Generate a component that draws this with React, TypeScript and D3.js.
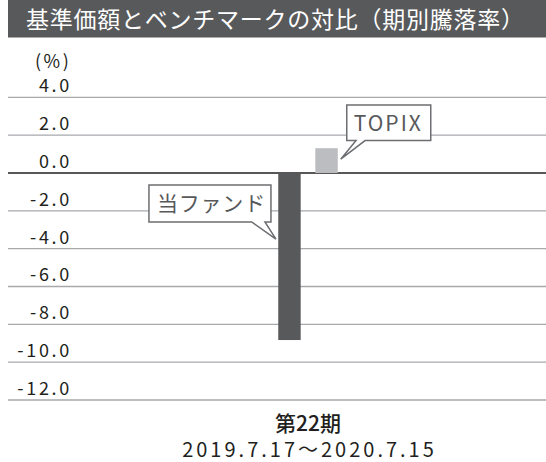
import * as d3 from 'd3'

const W = 546
const H = 462
const FONT = "'Noto Sans CJK JP', 'Noto Sans', sans-serif"

const title = '基準価額とベンチマークの対比（期別騰落率）'
const periods = ['第22期']
const periodDates = ['2019.7.17〜2020.7.15']
const series = ['当ファンド', 'TOPIX']
const fundValues = [-8.83]
const topixValues = [1.31]
const yTicks = [4, 2, 0, -2, -4, -6, -8, -10, -12]
const colors = ['#58595b', '#bcbdc0']

const yScale = d3.scaleLinear().domain([-12, 4]).range([400, 97.3])
const x0 = d3.scaleBand().domain(periods).range([70, W]).paddingOuter(3.5).paddingInner(0)
const x1 = d3.scaleBand().domain(series).range([0, x0.bandwidth()]).paddingInner(0.395)

const values: Record<string, number[]> = { 当ファンド: fundValues, TOPIX: topixValues }

function calloutPath(l: number, t: number, r: number, b: number, ta: number, tb: number, tx: number, ty: number) {
  return `M${l},${t}H${r}V${b}H${tb}L${tx},${ty}L${ta},${b}H${l}Z`
}

export default function App() {
  const p = periods[0]
  const fundX = x0(p)! + x1('当ファンド')!
  const topixX = x0(p)! + x1('TOPIX')!
  const bw = x1.bandwidth()

  // callout tips
  const tTip = { x: topixX + bw + 3, y: yScale(topixValues[0]) + 11 }
  const fTip = { x: fundX - 2.3, y: yScale(-3.5) }

  return (
    <svg width={W} height={H} style={{ position: 'absolute', left: 0, top: 0, fontFamily: FONT }}>
      <rect x={8} y={0} width={W - 8} height={37.5} fill="#58595b" />
      <text x={26} y={28} fill="#fff" fontSize={23} letterSpacing={0.75}>{title}</text>

      <text x={35} y={68} fontSize={18} letterSpacing={2.5} fill="#231f20">(%)</text>

      {yTicks.map((v) => (
        <g key={v}>
          <line x1={8} x2={W} y1={yScale(v)} y2={yScale(v)}
            stroke={v === 0 ? '#231f20' : '#a7a9ac'} strokeWidth={v === 0 ? 1.6 : 1.3} />
          <text x={72} y={yScale(v) - 5} textAnchor="end" fontSize={18} letterSpacing={2.7} fill="#231f20">
            {v.toFixed(1)}
          </text>
        </g>
      ))}

      {periods.map((per) => (
        <g key={per}>
          {series.map((s, i) => {
            const v = values[s][periods.indexOf(per)]
            return (
              <rect key={s} x={x0(per)! + x1(s)!} width={bw}
                y={yScale(Math.max(0, v))} height={Math.abs(yScale(v) - yScale(0))} fill={colors[i]} />
            )
          })}
          <text x={x0(per)! + x0.bandwidth() / 2} y={431} textAnchor="middle" fontSize={21} fontWeight={500} fill="#231f20">
            {per}
          </text>
          <text x={x0(per)! + x0.bandwidth() / 2 + 1.5} y={457} textAnchor="middle" fontSize={20} letterSpacing={3} fill="#231f20">
            {periodDates[periods.indexOf(per)]}
          </text>
        </g>
      ))}

      {/* TOPIX callout */}
      <path d={calloutPath(tTip.x + 6, tTip.y - 54.3, tTip.x + 90, tTip.y - 18.6, tTip.x + 15.3, tTip.x + 24.3, tTip.x, tTip.y)}
        fill="#fff" stroke="#6d6e71" strokeWidth={1.5} />
      <text x={tTip.x + 13} y={tTip.y - 28.6} fontSize={21} letterSpacing={2} fill="#58595b">TOPIX</text>

      {/* fund callout */}
      <path d={calloutPath(fTip.x - 127, fTip.y - 54.3, fTip.x - 5, fTip.y - 17.3, fTip.x - 24.3, fTip.x - 11, fTip.x, fTip.y)}
        fill="#fff" stroke="#6d6e71" strokeWidth={1.5} />
      <text x={fTip.x - 119} y={fTip.y - 28} fontSize={21} letterSpacing={0.8} fill="#58595b">当ファンド</text>
    </svg>
  )
}
